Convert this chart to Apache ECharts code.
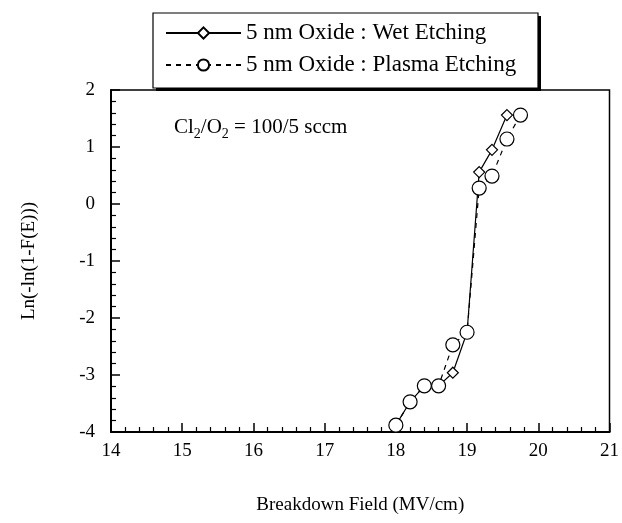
<!DOCTYPE html>
<html>
<head>
<meta charset="utf-8">
<script src="https://cdn.jsdelivr.net/npm/echarts@6/dist/echarts.min.js"></script>
<style>
  html, body { margin: 0; padding: 0; background: #fff; }
  #chart { width: 622px; height: 523px; }
</style>
</head>
<body>
<div id="chart"></div>
<script>
  // Weibull plot: breakdown field vs Ln(-ln(1-F(E)))
  var wetField = [18.0, 18.2, 18.4, 18.6, 18.8, 19.0, 19.17, 19.35, 19.56];
  var wetWeibull = [-3.88, -3.47, -3.19, -3.19, -2.96, -2.25, 0.56, 0.95, 1.56];

  var plasmaField = [18.0, 18.2, 18.4, 18.6, 18.8, 19.0, 19.17, 19.35, 19.56, 19.75];
  var plasmaWeibull = [-3.88, -3.47, -3.19, -3.19, -2.47, -2.25, 0.28, 0.49, 1.14, 1.56];

  var seriesNames = ["5 nm Oxide : Wet Etching", "5 nm Oxide : Plasma Etching"];

  var FONT = "Liberation Serif";

  function pairs(xs, ys) {
    return xs.map(function (x, i) { return [x, ys[i]]; });
  }

  var chart = echarts.init(document.getElementById("chart"), null, { renderer: "canvas" });

  var axisCommon = {
    axisLine: { show: true, onZero: false, lineStyle: { color: "#000", width: 2 } },
    axisTick: { show: true, inside: true, length: 9, lineStyle: { color: "#000", width: 1.5 } },
    minorTick: { show: true, splitNumber: 5, length: 5, lineStyle: { color: "#000", width: 1.2 } },
    splitLine: { show: false },
    axisLabel: { color: "#000", fontFamily: FONT, fontSize: 19 },
    nameTextStyle: { color: "#000", fontFamily: FONT, fontSize: 19 }
  };

  chart.setOption({
    animation: false,
    backgroundColor: "#fff",
    grid: {
      left: 111, right: 11, top: 90, bottom: 91,
      show: true, borderColor: "#000", borderWidth: 1.5, backgroundColor: "transparent"
    },
    legend: {
      data: seriesNames,
      orient: "vertical",
      left: 165, top: 21,
      padding: 0,
      itemWidth: 75, itemHeight: 14, itemGap: 8, itemTextGap: 8,
      textStyle: { color: "#000", fontFamily: FONT, fontSize: 23, lineHeight: 24 }
    },
    xAxis: Object.assign({}, axisCommon, {
      type: "value", min: 14, max: 21, interval: 1,
      name: "Breakdown Field (MV/cm)", nameLocation: "middle", nameGap: 64,
      axisLabel: Object.assign({}, axisCommon.axisLabel, { margin: 10 })
    }),
    yAxis: Object.assign({}, axisCommon, {
      type: "value", min: -4, max: 2, interval: 1,
      name: "Ln(-ln(1-F(E)))", nameLocation: "middle", nameGap: 72,
      axisLabel: Object.assign({}, axisCommon.axisLabel, { margin: 16 })
    }),
    graphic: [
      // legend frame: hard drop shadow on the right and bottom
      {
        type: "rect", z: 1,
        shape: { x: 156, y: 16, width: 385, height: 75 },
        style: { fill: "#000" }
      },
      {
        type: "rect", z: 2,
        shape: { x: 153, y: 13, width: 385, height: 75 },
        style: { fill: "#fff", stroke: "#000", lineWidth: 1.2 }
      },
      {
        type: "text", z: 3,
        left: 174, top: 117,
        style: {
          text: "Cl{s|2}/O{s|2} = 100/5 sccm",
          fill: "#000",
          font: "21px " + FONT,
          rich: {
            s: { fontSize: 14, fontFamily: FONT, padding: [13, 0, 0, 0], verticalAlign: "bottom" }
          }
        }
      }
    ],
    series: [
      {
        name: seriesNames[0],
        type: "line",
        data: pairs(wetField, wetWeibull),
        symbol: "diamond",
        symbolSize: 11,
        showAllSymbol: true,
        z: 2,
        lineStyle: { color: "#000", width: 1.2, type: "solid" },
        itemStyle: { color: "#fff", borderColor: "#000", borderWidth: 1.2 }
      },
      {
        name: seriesNames[1],
        type: "line",
        data: pairs(plasmaField, plasmaWeibull),
        symbol: "circle",
        symbolSize: 14,
        showAllSymbol: true,
        z: 3,
        lineStyle: { color: "#000", width: 1.2, type: [5, 5] },
        itemStyle: { color: "#fff", borderColor: "#000", borderWidth: 1.2 }
      }
    ]
  });
</script>
</body>
</html>
